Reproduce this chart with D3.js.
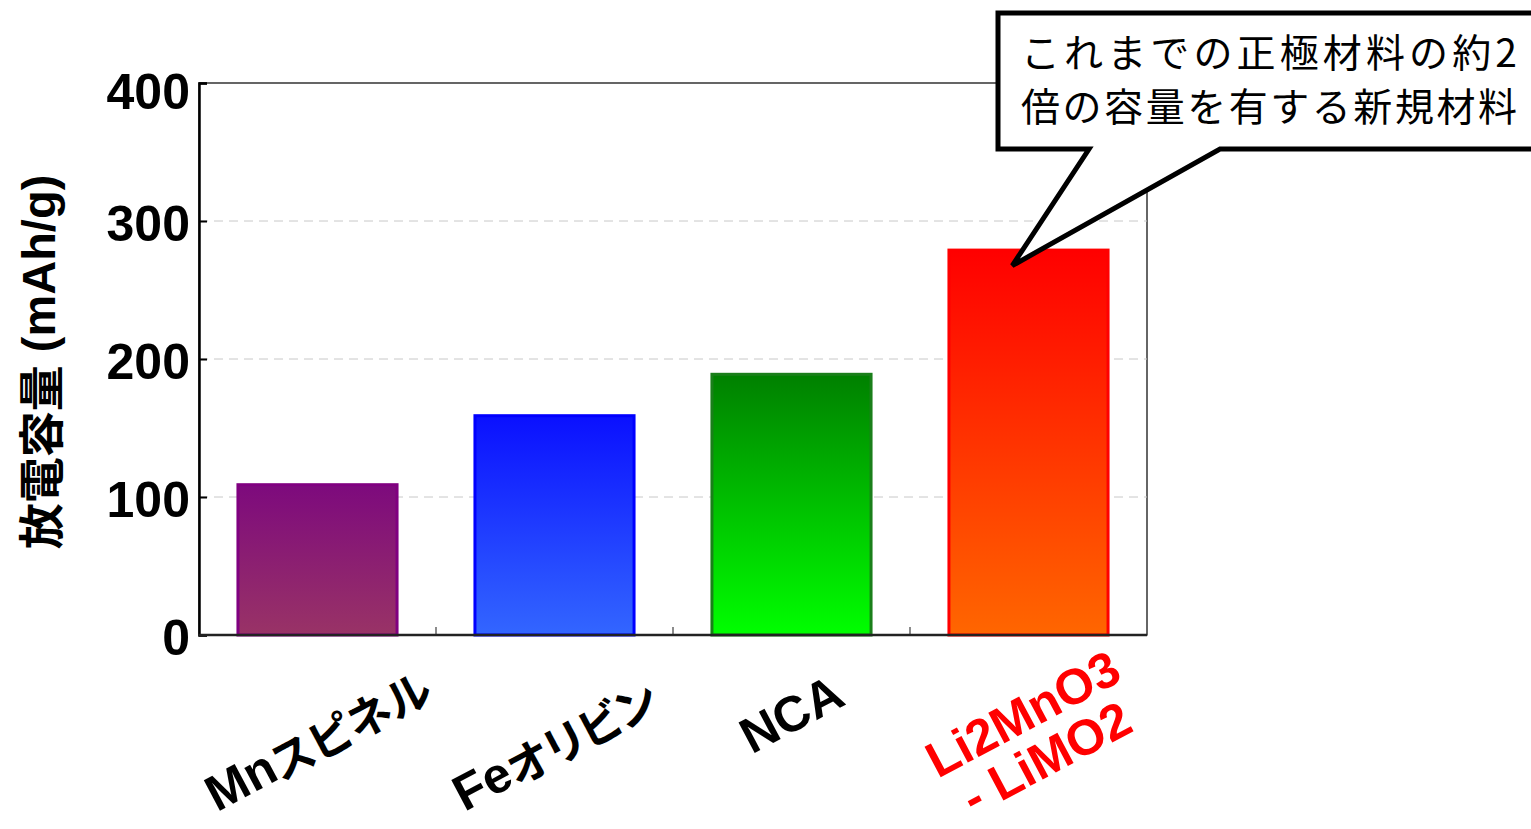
<!DOCTYPE html>
<html>
<head>
<meta charset="utf-8">
<script src="https://cdn.jsdelivr.net/npm/d3@7"></script>
<style>
  html, body { margin: 0; padding: 0; background: #fff; }
  svg { display: block; }
  .cjk { font-family: "Noto Sans CJK JP", sans-serif; font-feature-settings: "palt"; }
  .lat { font-family: "Liberation Sans", Arial, sans-serif; }
</style>
</head>
<body>
<svg id="chart" width="1531" height="829"></svg>
<script>
// Discharge capacity of cathode materials (mAh/g)
const categories = ["Mnスピネル", "Feオリビン", "NCA", "Li2MnO3\n- LiMO2"];
const capacity = [110, 160, 190, 280];
const yTicks = [0, 100, 200, 300, 400];
const yTitle = "放電容量 (mAh/g)";
const calloutLines = ["これまでの正極材料の約2", "倍の容量を有する新規材料"];

// bar styling: stroke colour, gradient top, gradient bottom, label colour
const barStroke = ["#800080", "#0000ff", "#1a7f1a", "#ff0000"];
const barTop    = ["#7d0a7d", "#0a10ff", "#008000", "#ff0000"];
const barBottom = ["#993366", "#3366ff", "#00ff00", "#ff6600"];
const labelColor = ["#000", "#000", "#000", "#ff0000"];

const svg = d3.select("#chart");
const plot = { left: 199, right: 1147, top: 83, bottom: 635 };
const H = 829;

const x = d3.scaleBand()
  .domain(categories)
  .range([plot.left, plot.right])
  .paddingInner(0.316)
  .paddingOuter(0.158);

const y = d3.scaleLinear().domain([0, 400]).range([plot.bottom, plot.top]);

// gradients
const defs = svg.append("defs");
categories.forEach((c, i) => {
  const g = defs.append("linearGradient")
    .attr("id", "grad" + i)
    .attr("x1", 0).attr("y1", 0).attr("x2", 0).attr("y2", 1);
  g.append("stop").attr("offset", "0%").attr("stop-color", barTop[i]);
  g.append("stop").attr("offset", "100%").attr("stop-color", barBottom[i]);
});

// frame (thin top/right border)
svg.append("rect")
  .attr("x", plot.left).attr("y", plot.top)
  .attr("width", plot.right - plot.left).attr("height", plot.bottom - plot.top)
  .attr("fill", "none").attr("stroke", "#000").attr("stroke-width", 1.2);

// dashed grid
svg.append("g")
  .selectAll("line")
  .data(yTicks.filter(t => t > 0 && t < 400))
  .join("line")
  .attr("x1", plot.left).attr("x2", plot.right)
  .attr("y1", d => y(d)).attr("y2", d => y(d))
  .attr("stroke", "#c8c8c8").attr("stroke-width", 1)
  .attr("stroke-dasharray", "9,6");

// bars
const sw = 3;
svg.append("g")
  .selectAll("rect")
  .data(capacity)
  .join("rect")
  .attr("x", (d, i) => x(categories[i]) + sw / 2)
  .attr("width", x.bandwidth() - sw)
  .attr("y", d => y(d) + sw / 2)
  .attr("height", d => y(0) - y(d) - sw / 2)
  .attr("fill", (d, i) => `url(#grad${i})`)
  .attr("stroke", (d, i) => barStroke[i])
  .attr("stroke-width", sw);

// y axis
const yAxis = svg.append("g")
  .attr("transform", `translate(${plot.left},0)`)
  .call(d3.axisLeft(y).tickValues(yTicks).tickSize(-8).tickPadding(9).tickFormat(d3.format("d")));
yAxis.select(".domain").attr("stroke", "#000").attr("stroke-width", 2.5);
yAxis.selectAll(".tick line").attr("stroke", "#000").attr("stroke-width", 2);
yAxis.selectAll(".tick text")
  .attr("class", "lat")
  .attr("dy", d => d === 400 ? "0.5em" : "0.38em")
  .attr("font-size", 50).attr("font-weight", "bold").attr("fill", "#000");

// category boundary ticks and baseline
const gap = x.step() * x.paddingInner() / 2;
svg.append("g")
  .selectAll("line")
  .data(categories.slice(1))
  .join("line")
  .attr("x1", d => x(d) - gap).attr("x2", d => x(d) - gap)
  .attr("y1", plot.bottom).attr("y2", plot.bottom - 8)
  .attr("stroke", "#666").attr("stroke-width", 1.5);
svg.append("line")
  .attr("x1", plot.left - 1).attr("x2", plot.right)
  .attr("y1", plot.bottom).attr("y2", plot.bottom)
  .attr("stroke", "#222").attr("stroke-width", 2.5);

// split a string into runs of Latin and Japanese characters
function runs(s) {
  return s.match(/[\u3000-\u30ff\u4e00-\u9fff]+|[^\u3000-\u30ff\u4e00-\u9fff]+/g) || [];
}
function addRuns(textSel, s, latSize, cjkSize) {
  runs(s).forEach(r => {
    const isCjk = /[\u3000-\u30ff\u4e00-\u9fff]/.test(r);
    textSel.append("tspan")
      .attr("class", isCjk ? "cjk" : "lat")
      .attr("font-size", isCjk ? cjkSize : latSize)
      .text(r);
  });
}

// rotated category labels: centred on the band, top of rotated box below the axis,
// kept inside the bottom edge of the drawing
const labelTop = 664;
const angle = -28;
categories.forEach((c, i) => {
  const g = svg.append("g");
  const lines = c.split("\n");
  const lh = 50;
  lines.forEach((ln, j) => {
    const t = g.append("text")
      .attr("transform", `rotate(${angle})`)
      .attr("text-anchor", "middle")
      .attr("dominant-baseline", "central")
      .attr("font-weight", "bold")
      .attr("fill", labelColor[i])
      .attr("y", (j - (lines.length - 1) / 2) * lh);
    addRuns(t, ln, 50, 45);
  });
  const bb = g.node().getBBox();
  const cx = x(c) + x.bandwidth() / 2;
  const dy = Math.min(labelTop - bb.y, H - 3 - (bb.y + bb.height));
  g.attr("transform", `translate(${cx - (bb.x + bb.width / 2)},${dy})`);
});

// y axis title
const yt = svg.append("text")
  .attr("transform", `translate(38,${(plot.top + plot.bottom) / 2 + 3}) rotate(-90)`)
  .attr("text-anchor", "middle")
  .attr("dominant-baseline", "central")
  .attr("font-weight", "bold")
  .attr("fill", "#000");
addRuns(yt, yTitle, 47, 46);

// callout pointing at the top of the last bar
const last = categories[categories.length - 1];
const tip = [x(last) + x.bandwidth() * 0.4, y(capacity[capacity.length - 1]) + 17];
const box = { l: 998, t: 13, r: 1545, b: 149 };
const callout = d3.path();
callout.moveTo(box.l, box.t);
callout.lineTo(box.r, box.t);
callout.lineTo(box.r, box.b);
callout.lineTo(1220, box.b);
callout.lineTo(tip[0], tip[1]);
callout.lineTo(1089, box.b);
callout.lineTo(box.l, box.b);
callout.closePath();
svg.append("path")
  .attr("d", callout.toString())
  .attr("fill", "#fff").attr("stroke", "#000").attr("stroke-width", 5)
  .attr("stroke-linejoin", "miter");

svg.append("g")
  .selectAll("text")
  .data(calloutLines)
  .join("text")
  .attr("class", "cjk")
  .style("font-feature-settings", "normal")
  .attr("x", 1021)
  .attr("y", (d, i) => 67 + i * 54)
  .attr("font-size", 39)
  .attr("fill", "#000")
  .attr("textLength", 496)
  .attr("lengthAdjust", "spacing")
  .text(d => d);
</script>
</body>
</html>
